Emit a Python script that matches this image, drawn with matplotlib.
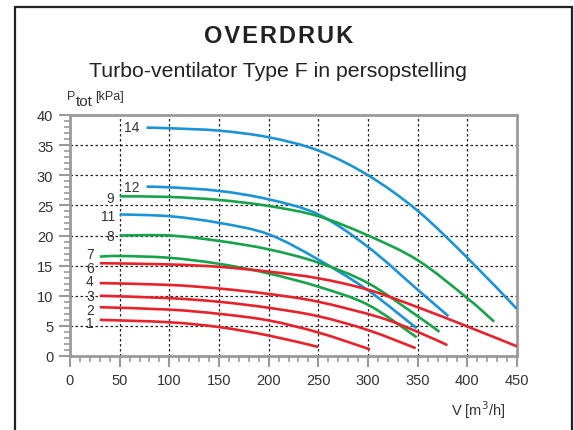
import numpy as np
import matplotlib
matplotlib.use('Agg')
import matplotlib.pyplot as plt
from matplotlib.patches import Rectangle, PathPatch
from matplotlib.path import Path
from matplotlib.ticker import MultipleLocator

plt.rcParams['font.family'] = ['Liberation Sans', 'DejaVu Sans']

# curve data: V [m3/h], P_tot [kPa]
V14 = [77, 100, 150, 200, 250, 300, 350, 400, 450]
P14 = [37.9, 37.8, 37.4, 36.3, 34.1, 30.0, 24.1, 16.3, 7.8]
V12 = [77, 100, 150, 200, 250, 300, 350, 381]
P12 = [28.1, 28.0, 27.4, 26.0, 23.5, 18.1, 11.0, 6.6]
V11 = [50, 100, 150, 200, 250, 300, 349]
P11 = [23.5, 23.2, 22.1, 20.2, 16.0, 10.9, 4.6]
V9 = [50, 100, 150, 200, 250, 300, 350, 400, 427]
P9 = [26.5, 26.4, 25.9, 24.9, 23.2, 20.0, 15.9, 9.6, 5.7]
V8 = [50, 100, 150, 200, 250, 300, 350, 372]
P8 = [20.0, 20.0, 19.1, 17.7, 15.5, 12.1, 6.6, 4.0]
V7 = [30, 50, 100, 150, 200, 250, 300, 349]
P7 = [16.5, 16.6, 16.3, 15.3, 13.7, 11.5, 8.5, 3.1]
V6 = [30, 100, 150, 200, 250, 300, 350, 400, 450]
P6 = [15.4, 15.2, 14.8, 14.0, 12.9, 11.0, 8.1, 4.9, 1.6]
V4 = [30, 100, 150, 200, 250, 312, 350, 380]
P4 = [12.1, 11.8, 11.2, 10.3, 9.0, 6.4, 4.0, 1.8]
V3 = [30, 100, 150, 200, 250, 300, 348]
P3 = [10.0, 9.6, 9.0, 8.0, 6.6, 4.3, 1.3]
V2 = [30, 100, 150, 200, 250, 302]
P2 = [8.1, 7.7, 7.0, 5.9, 3.9, 1.1]
V1 = [30, 100, 150, 200, 250]
P1 = [6.0, 5.6, 4.8, 3.4, 1.5]

curves = [
    ('14', V14, P14, 'blue', 70, 38.0),
    ('12', V12, P12, 'blue', 70, 28.0),
    ('11', V11, P11, 'blue', 46, 23.2),
    ('9', V9, P9, 'green', 44, 26.2),
    ('8', V8, P8, 'green', 44, 19.9),
    ('7', V7, P7, 'green', 24, 16.9),
    ('6', V6, P6, 'red', 24, 14.6),
    ('4', V4, P4, 'red', 24, 12.4),
    ('3', V3, P3, 'red', 24, 10.0),
    ('2', V2, P2, 'red', 24, 7.7),
    ('1', V1, P1, 'red', 24, 5.5),
]
colors = {'blue': '#1a94d6', 'green': '#17a34a', 'red': '#e8222a'}


def smooth_path(v, p):
    # draw the read points as a smooth bezier line (catmull-rom style)
    pts = np.column_stack([v, p]).astype(float)
    n = len(pts)
    verts = [pts[0]]
    codes = [Path.MOVETO]
    for i in range(n - 1):
        p0 = pts[i - 1] if i > 0 else pts[i]
        p1 = pts[i]
        p2 = pts[i + 1]
        p3 = pts[i + 2] if i + 2 < n else pts[i + 1]
        verts += [p1 + (p2 - p0) / 6, p2 - (p3 - p1) / 6, p2]
        codes += [Path.CURVE4] * 3
    return Path(verts, codes)


fig = plt.figure(figsize=(5.74, 4.31), dpi=100)
ax = fig.add_axes([70 / 574, 74 / 431, 447 / 574, 241 / 431])

# frame around the whole chart
fig.patches.append(Rectangle((15 / 574, -0.1), 557 / 574, 1.1 - 8 / 431,
                             transform=fig.transFigure, fill=False,
                             edgecolor='#222222', linewidth=1.6))

for name, v, p, c, lx, ly in curves:
    ax.add_patch(PathPatch(smooth_path(v, p), fill=False, edgecolor=colors[c],
                           linewidth=1.9, capstyle='butt', zorder=3))
    ax.text(lx, ly, name, ha='right', va='center', fontsize=10, color='#333333')

ax.set_xlim(0, 450)
ax.set_ylim(0, 40)
ax.xaxis.set_major_locator(MultipleLocator(50))
ax.xaxis.set_minor_locator(MultipleLocator(10))
ax.yaxis.set_major_locator(MultipleLocator(5))
ax.yaxis.set_minor_locator(MultipleLocator(1))

# dotted grid, only inside
for x in range(50, 450, 50):
    ax.axvline(x, color='#222222', linestyle=(0, (2, 2)), linewidth=0.9, zorder=1)
for y in range(5, 40, 5):
    ax.axhline(y, color='#222222', linestyle=(0, (2, 2)), linewidth=0.9, zorder=1)

for s in ax.spines.values():
    s.set_color('#9a9a9a')
    s.set_linewidth(2)
ax.tick_params(which='major', length=8, width=1.5, color='#9a9a9a',
               labelsize=10.5, labelcolor='#333333', pad=4)
ax.tick_params(which='minor', length=4, width=1.2, color='#9a9a9a')

fig.text(0.486, 0.916, '\u200a'.join('OVERDRUK'), ha='center', va='center',
         fontsize=17, fontweight='heavy', color='#222222')
fig.text(0.485, 0.833, 'Turbo-ventilator Type F in persopstelling', ha='center',
         va='center', fontsize=15.3, color='#222222')

fig.text(67 / 574, 1 - 97 / 431, 'P', fontsize=9, color='#333333', va='center')
fig.text(76 / 574, 1 - 102 / 431, 'tot', fontsize=11, color='#333333', va='center')
fig.text(95 / 574, 1 - 97 / 431, '[kPa]', fontsize=9, color='#333333', va='center')

fig.text(505 / 574, 1 - 410 / 431, 'V [m$^3$/h]', ha='right', va='center',
         fontsize=10.5, color='#333333')

fig.savefig('out.png', dpi=100)
